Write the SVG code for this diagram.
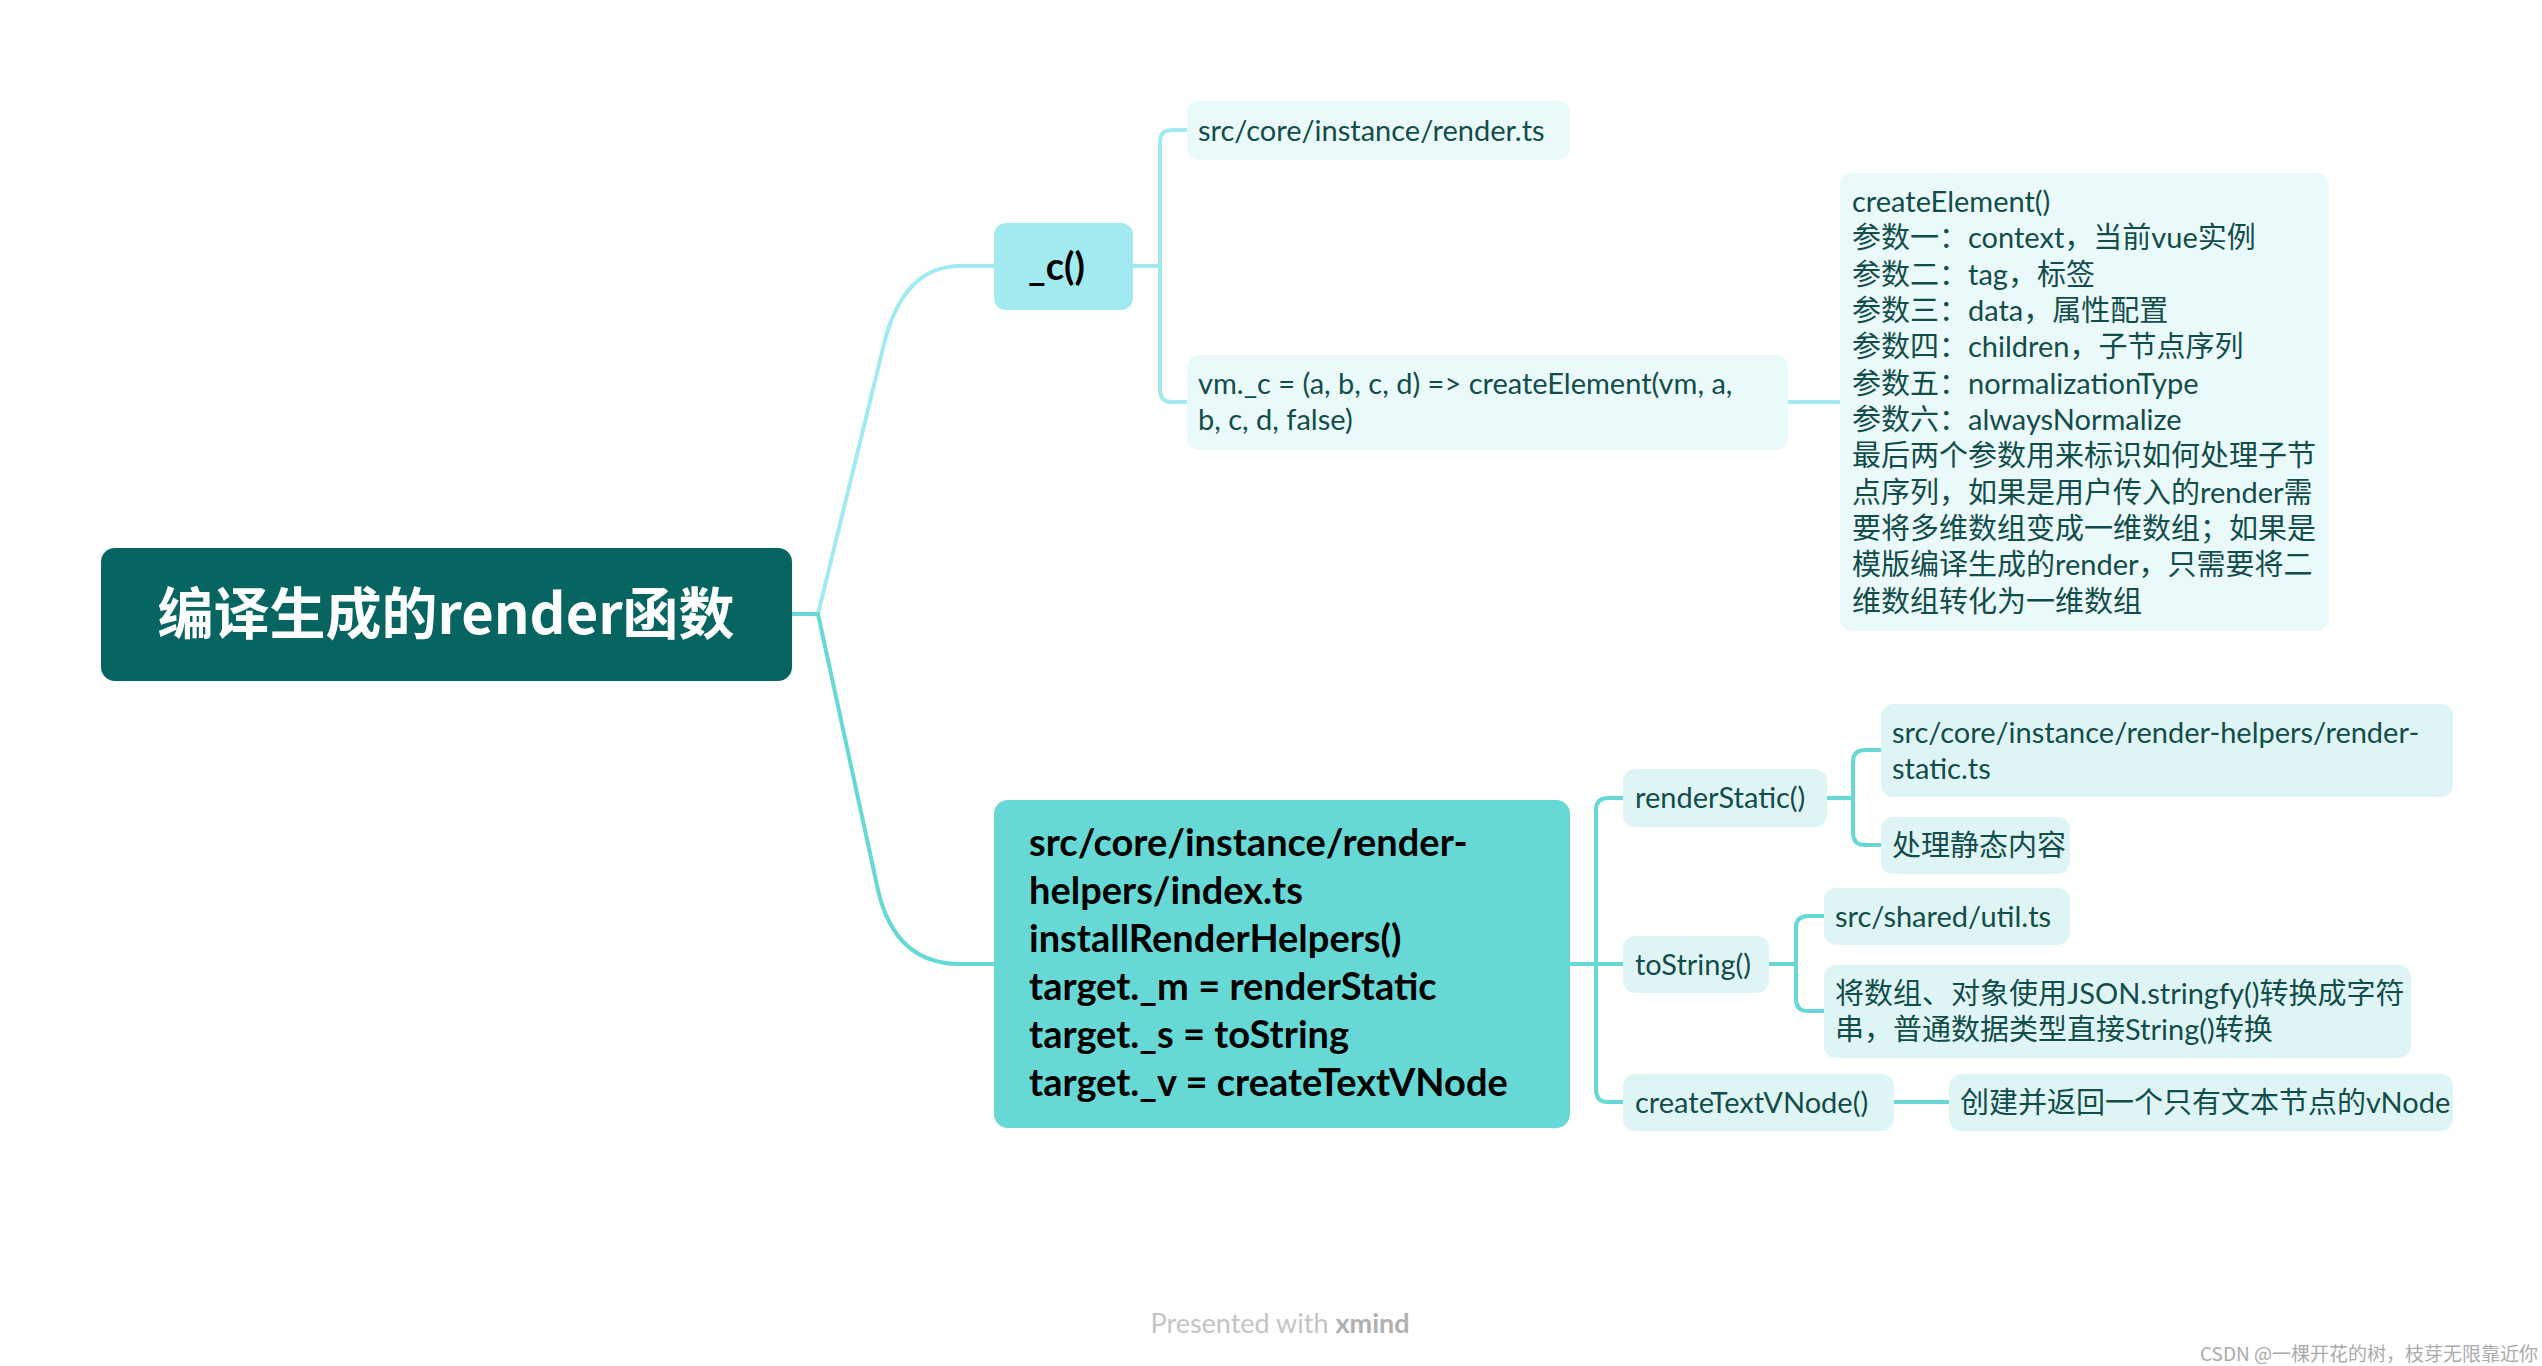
<svg xmlns="http://www.w3.org/2000/svg" width="2542" height="1366" viewBox="0 0 2542 1366">
<style>
.t{font-family:Lato,"Noto Sans CJK SC",sans-serif;font-size:29px;fill:#124d4a}
.b{font-family:Lato,"Noto Sans CJK SC",sans-serif;font-weight:bold;font-size:38px;fill:#000}
.c1{fill:none;stroke:#a0eaf0;stroke-width:4}
.c2{fill:none;stroke:#66d9d6;stroke-width:4}
.l1{fill:#eafafb}
.l2{fill:#dff5f5}
</style>
<rect width="2542" height="1366" fill="#fff"/>
<g id="connectors">
<path class="c1" d="M792 614 H818 L885 340 Q905 266 960 266 H994"/>
<path class="c2" d="M792 614 H818 L878 890 Q895 964 960 964 H994"/>
<path class="c1" d="M1133 266 H1160"/>
<path class="c1" d="M1187 130 H1172 Q1160 130 1160 142 V390 Q1160 402 1172 402 H1187"/>
<path class="c1" d="M1788 402 H1840"/>
<path class="c2" d="M1570 964 H1623"/>
<path class="c2" d="M1623 798 H1608 Q1596 798 1596 810 V1090 Q1596 1102 1608 1102 H1623"/>
<path class="c2" d="M1827 798 H1853"/>
<path class="c2" d="M1881 750 H1865 Q1853 750 1853 762 V833 Q1853 845 1865 845 H1881"/>
<path class="c2" d="M1769 964 H1796"/>
<path class="c2" d="M1824 916 H1808 Q1796 916 1796 928 V999 Q1796 1011 1808 1011 H1824"/>
<path class="c2" d="M1894 1102 H1949"/>
</g>
<g id="root"><rect x="101" y="548" width="691" height="133" rx="14" fill="#076561"/>
<text x="446" y="634" text-anchor="middle" style="font-family:'Noto Sans CJK SC',sans-serif;font-weight:bold;font-size:56px;fill:#fff">编译生成的render函数</text></g>
<g id="c"><rect x="994" y="223" width="139" height="87" rx="12" fill="#a0eaf0"/>
<text class="b" x="1028" y="280">_c()</text></g>
<g id="render-ts"><rect class="l1" x="1187" y="101" width="383" height="59" rx="12"/>
<text class="t" x="1198" y="141">src/core/instance/render.ts</text></g>
<g id="vmc"><rect class="l1" x="1187" y="355" width="601" height="95" rx="12"/>
<text class="t" x="1198" y="394">vm._c = (a, b, c, d) =&gt; createElement(vm, a,</text>
<text class="t" x="1198" y="430">b, c, d, false)</text></g>
<g id="createElement"><rect class="l1" x="1840" y="173" width="489" height="458" rx="12"/>
<text class="t" x="1852" y="212">createElement()</text>
<text class="t" x="1852" y="248">参数一：context，当前vue实例</text>
<text class="t" x="1852" y="285">参数二：tag，标签</text>
<text class="t" x="1852" y="321">参数三：data，属性配置</text>
<text class="t" x="1852" y="357">参数四：children，子节点序列</text>
<text class="t" x="1852" y="394">参数五：normalizationType</text>
<text class="t" x="1852" y="430">参数六：alwaysNormalize</text>
<text class="t" x="1852" y="466">最后两个参数用来标识如何处理子节</text>
<text class="t" x="1852" y="503">点序列，如果是用户传入的render需</text>
<text class="t" x="1852" y="539">要将多维数组变成一维数组；如果是</text>
<text class="t" x="1852" y="575">模版编译生成的render，只需要将二</text>
<text class="t" x="1852" y="612">维数组转化为一维数组</text></g>
<g id="helpers"><rect x="994" y="800" width="576" height="328" rx="14" fill="#66d9d6"/>
<text class="b" x="1029" y="856">src/core/instance/render-</text>
<text class="b" x="1029" y="904">helpers/index.ts</text>
<text class="b" x="1029" y="952">installRenderHelpers()</text>
<text class="b" x="1029" y="1000">target._m = renderStatic</text>
<text class="b" x="1029" y="1048">target._s = toString</text>
<text class="b" x="1029" y="1096">target._v = createTextVNode</text></g>
<g id="renderStatic"><rect class="l2" x="1623" y="769" width="204" height="58" rx="12"/>
<text class="t" x="1635" y="808">renderStatic()</text></g>
<g id="static-ts"><rect class="l2" x="1881" y="704" width="572" height="93" rx="12"/>
<text class="t" x="1892" y="743">src/core/instance/render-helpers/render-</text>
<text class="t" x="1892" y="779">static.ts</text></g>
<g id="static-desc"><rect class="l2" x="1881" y="817" width="189" height="57" rx="12"/>
<text class="t" x="1892" y="856">处理静态内容</text></g>
<g id="toString"><rect class="l2" x="1623" y="936" width="146" height="57" rx="12"/>
<text class="t" x="1635" y="975">toString()</text></g>
<g id="util"><rect class="l2" x="1824" y="888" width="246" height="57" rx="12"/>
<text class="t" x="1835" y="927">src/shared/util.ts</text></g>
<g id="tostr-desc"><rect class="l2" x="1824" y="965" width="587" height="93" rx="12"/>
<text class="t" x="1835" y="1004">将数组、对象使用JSON.stringfy()转换成字符</text>
<text class="t" x="1835" y="1040">串，普通数据类型直接String()转换</text></g>
<g id="createTextVNode"><rect class="l2" x="1623" y="1074" width="271" height="57" rx="12"/>
<text class="t" x="1635" y="1113">createTextVNode()</text></g>
<g id="ctv-desc"><rect class="l2" x="1949" y="1074" width="504" height="57" rx="12"/>
<text class="t" x="1960" y="1113">创建并返回一个只有文本节点的vNode</text></g>
<text x="1280" y="1333" text-anchor="middle" style="font-family:Lato,sans-serif;font-size:27px;fill:#c4c4c4">Presented with <tspan font-weight="bold" fill="#b0b0b0">xmind</tspan></text>
<text x="2538" y="1361" text-anchor="end" style="font-family:'Noto Sans CJK SC',sans-serif;font-size:19px;fill:#aaa">CSDN @一棵开花的树，枝芽无限靠近你</text>
</svg>
